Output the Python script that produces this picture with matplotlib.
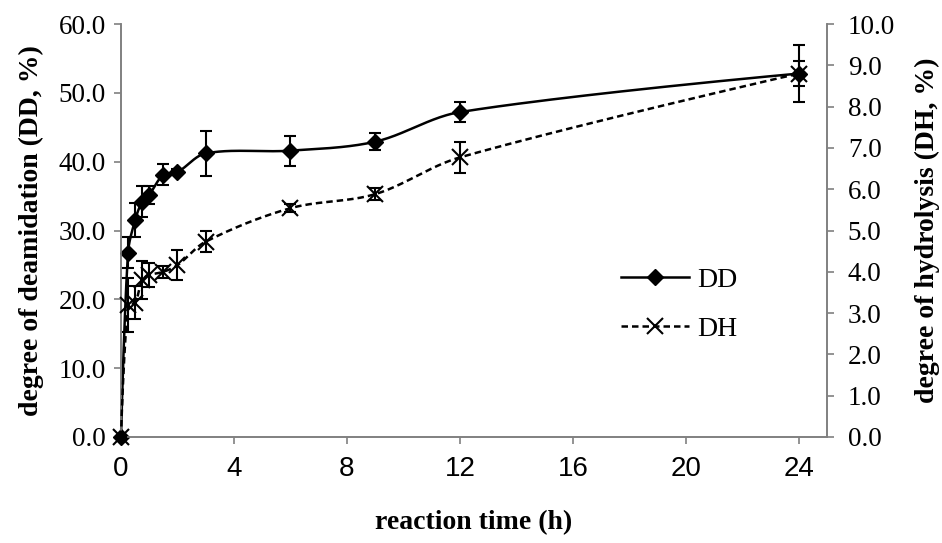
import numpy as np
import matplotlib
matplotlib.use("Agg")
import matplotlib.pyplot as plt
from matplotlib.lines import Line2D

# sampling times (h)
time_h = [0, 0.25, 0.5, 0.75, 1, 1.5, 2, 3, 6, 9, 12, 24]
# degree of deamidation (%) and its error
dd = [0, 26.8, 31.5, 34.2, 35.2, 38.1, 38.5, 41.2, 41.6, 42.9, 47.2, 52.8]
dd_err = [0, 2.2, 2.5, 2.2, 1.3, 1.5, 0.5, 3.3, 2.2, 1.2, 1.5, 4.1]
# degree of hydrolysis (%) and its error
dh = [0, 3.2, 3.25, 3.8, 3.92, 4.0, 4.16, 4.73, 5.54, 5.88, 6.77, 8.8]
dh_err = [0, 0.65, 0.4, 0.45, 0.3, 0.15, 0.36, 0.25, 0.1, 0.14, 0.38, 0.3]

x_ticks = [0, 4, 8, 12, 16, 20, 24]
dd_ticks = np.arange(0, 61, 10)
dh_ticks = np.arange(0, 10.1, 1)

serif = "Liberation Serif"
sans = "Liberation Sans"
grey = "#808080"

fig = plt.figure(figsize=(9.42, 5.43), dpi=100)
ax = fig.add_axes([121 / 942, 1 - 437 / 543, 706 / 942, 413 / 543])
ax2 = ax.twinx()

ax.set_xlim(0, 25)
ax.set_ylim(0, 60)
ax2.set_ylim(0, 10)


def smooth(axis, xs, ys, n=40):
    # bezier smoothing in screen space, tangents weighted by segment length
    pts = axis.transData.transform(np.column_stack([xs, ys]))
    m = len(pts)
    out = [pts[0]]
    for i in range(m - 1):
        p0 = pts[max(i - 1, 0)]
        p1 = pts[i]
        p2 = pts[i + 1]
        p3 = pts[min(i + 2, m - 1)]
        d01 = np.hypot(*(p1 - p0))
        d12 = np.hypot(*(p2 - p1))
        d23 = np.hypot(*(p3 - p2))
        c1 = p1 + (p2 - p0) * d12 / (3 * (d01 + d12)) if d01 > 0 else p1
        c2 = p2 - (p3 - p1) * d12 / (3 * (d12 + d23)) if d23 > 0 else p2
        t = np.linspace(0, 1, n)[1:, None]
        seg = ((1 - t) ** 3) * p1 + 3 * ((1 - t) ** 2) * t * c1 \
            + 3 * (1 - t) * t ** 2 * c2 + t ** 3 * p2
        out.extend(seg)
    out = axis.transData.inverted().transform(np.array(out))
    return out[:, 0], out[:, 1]


# deamidation on left axis
ax.errorbar(time_h, dd, yerr=dd_err, fmt="none", ecolor="black",
            elinewidth=1.5, capsize=4.5, capthick=1.5, clip_on=False, zorder=3)
sx, sy = smooth(ax, time_h, dd)
ax.plot(sx, sy, color="black", lw=1.8, clip_on=False, zorder=4)
ax.plot(time_h, dd, ls="none", marker="D", ms=8.5, color="black",
        clip_on=False, zorder=5)

# hydrolysis on right axis
ax2.errorbar(time_h, dh, yerr=dh_err, fmt="none", ecolor="black",
             elinewidth=1.5, capsize=4.5, capthick=1.5, clip_on=False, zorder=3)
hx, hy = smooth(ax2, time_h, dh)
ax2.plot(hx, hy, color="black", lw=1.8, dashes=(2.6, 1.6), clip_on=False, zorder=4)
ax2.plot(time_h, dh, ls="none", marker="x", ms=11, mew=1.5, color="black",
         clip_on=False, zorder=5)

for a in (ax, ax2):
    a.spines["top"].set_visible(False)
    for s in ("left", "right", "bottom"):
        a.spines[s].set_color(grey)
        a.spines[s].set_linewidth(1.2)
    a.patch.set_visible(False)

ax.set_xticks(x_ticks)
ax.set_xticklabels([str(v) for v in x_ticks], fontfamily=sans, fontsize=20)
ax.set_yticks(dd_ticks)
ax.set_yticklabels([f"{v:.1f}" for v in dd_ticks], fontfamily=serif, fontsize=19.5)
ax2.set_yticks(dh_ticks)
ax2.set_yticklabels([f"{v:.1f}" for v in dh_ticks], fontfamily=serif, fontsize=19.5)

ax.tick_params(axis="x", direction="out", length=5, width=1.2, color=grey, pad=9)
ax.tick_params(axis="y", direction="out", length=5, width=1.2, color=grey, pad=6)
ax2.tick_params(axis="y", direction="out", length=5, width=1.2, color=grey, pad=10)

ax.set_xlabel("reaction time (h)", fontfamily=serif, fontweight="bold",
              fontsize=20, labelpad=20)
ax.set_ylabel("degree of deamidation (DD, %)", fontfamily=serif,
              fontweight="bold", fontsize=20, labelpad=10)
ax2.set_ylabel("degree of hydrolysis (DH, %)", fontfamily=serif,
               fontweight="bold", fontsize=20, labelpad=14)

handles = [
    Line2D([], [], color="black", lw=1.8, marker="D", ms=8.5),
    Line2D([], [], color="black", lw=1.8, dashes=(2.6, 1.6), marker="x", ms=11, mew=1.5),
]
ax2.legend(handles, ["DD", "DH"], loc="upper left", bbox_to_anchor=(0.708, 0.41),
           frameon=False, prop={"family": serif, "size": 20},
           handlelength=2.45, handletextpad=0.3, labelspacing=0.85,
           borderpad=0, borderaxespad=0)

fig.savefig("out.png", dpi=100)
